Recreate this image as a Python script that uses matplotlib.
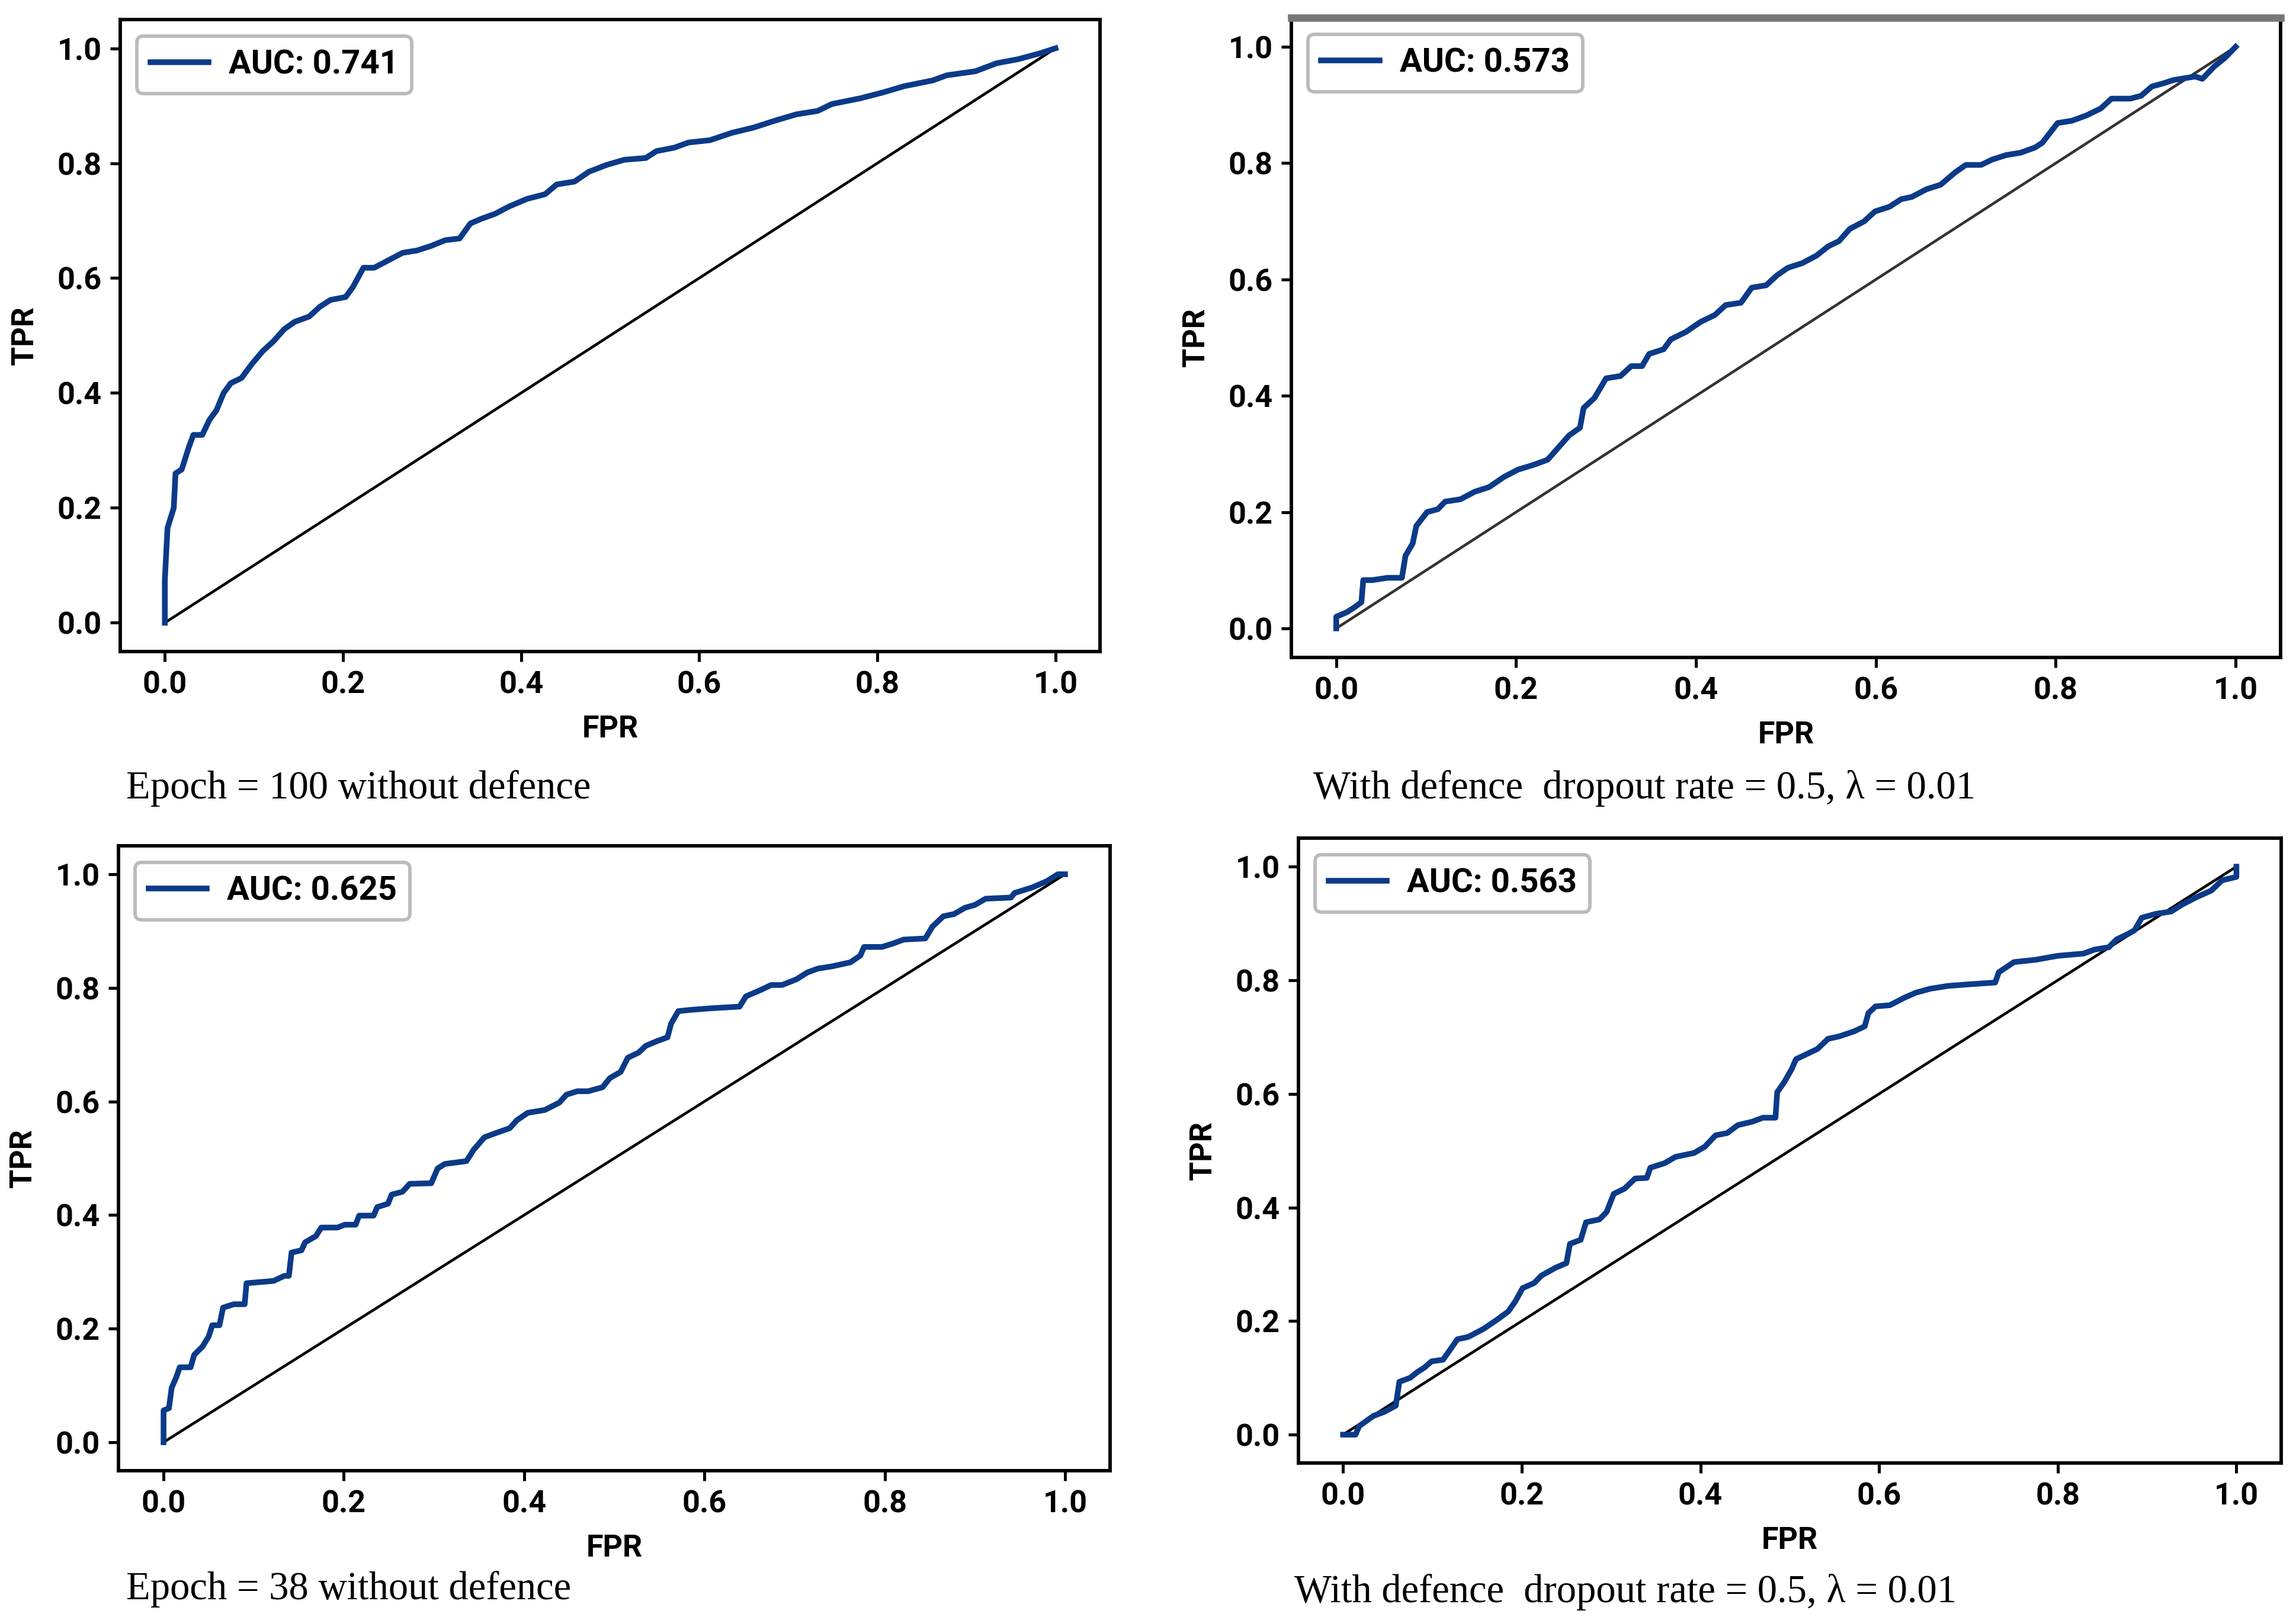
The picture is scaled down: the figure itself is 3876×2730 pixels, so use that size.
import matplotlib
matplotlib.use('Agg')
import matplotlib.pyplot as plt

plt.rcParams['font.family'] = ['Roboto', 'DejaVu Sans']

# ─── ROC data ───────────────────────────────────────────────────────────────
fpr_e100 = [0.0, 0.0, 0.003, 0.01, 0.012, 0.019, 0.027, 0.032, 0.042, 0.05, 0.058, 0.066,
            0.074, 0.086, 0.098, 0.11, 0.122, 0.134, 0.146, 0.162, 0.174, 0.186, 0.203,
            0.211, 0.223, 0.235, 0.251, 0.267, 0.283, 0.299, 0.315, 0.331, 0.343, 0.355,
            0.371, 0.387, 0.407, 0.427, 0.44, 0.46, 0.476, 0.496, 0.516, 0.54, 0.552,
            0.572, 0.588, 0.612, 0.637, 0.661, 0.685, 0.709, 0.733, 0.749, 0.781, 0.806,
            0.83, 0.862, 0.878, 0.91, 0.934, 0.958, 0.982, 1.0]
tpr_e100 = [0.0, 0.075, 0.165, 0.2, 0.26, 0.267, 0.306, 0.327, 0.327, 0.353, 0.37, 0.4,
            0.417, 0.426, 0.451, 0.473, 0.49, 0.511, 0.524, 0.533, 0.55, 0.562, 0.567,
            0.584, 0.618, 0.618, 0.631, 0.644, 0.648, 0.656, 0.666, 0.669, 0.695, 0.703,
            0.712, 0.725, 0.738, 0.746, 0.763, 0.768, 0.785, 0.797, 0.806, 0.809, 0.821,
            0.827, 0.836, 0.84, 0.853, 0.862, 0.874, 0.885, 0.891, 0.903, 0.913, 0.923,
            0.934, 0.944, 0.953, 0.96, 0.974, 0.981, 0.991, 1.0]

fpr_def1 = [0.0, 0.0, 0.012, 0.02, 0.028, 0.03, 0.04, 0.057, 0.073, 0.077, 0.085, 0.089,
            0.101, 0.113, 0.121, 0.138, 0.154, 0.17, 0.186, 0.202, 0.219, 0.235, 0.247,
            0.259, 0.271, 0.275, 0.287, 0.3, 0.316, 0.328, 0.34, 0.348, 0.364, 0.372,
            0.389, 0.405, 0.421, 0.433, 0.45, 0.462, 0.478, 0.49, 0.502, 0.518, 0.534,
            0.547, 0.559, 0.571, 0.587, 0.599, 0.615, 0.628, 0.64, 0.656, 0.672, 0.688,
            0.7, 0.717, 0.729, 0.745, 0.761, 0.777, 0.785, 0.802, 0.818, 0.834, 0.85,
            0.862, 0.883, 0.895, 0.907, 0.919, 0.931, 0.955, 0.963, 0.976, 0.988, 1.0]
tpr_def1 = [0.0, 0.02, 0.028, 0.036, 0.045, 0.083, 0.083, 0.087, 0.087, 0.125, 0.146,
            0.176, 0.2, 0.205, 0.218, 0.222, 0.235, 0.243, 0.26, 0.273, 0.281, 0.29,
            0.311, 0.332, 0.345, 0.379, 0.396, 0.43, 0.434, 0.451, 0.451, 0.472, 0.48,
            0.497, 0.51, 0.527, 0.539, 0.556, 0.56, 0.586, 0.59, 0.607, 0.62, 0.628,
            0.641, 0.657, 0.666, 0.687, 0.7, 0.717, 0.725, 0.738, 0.742, 0.755, 0.763,
            0.784, 0.797, 0.797, 0.806, 0.814, 0.818, 0.827, 0.835, 0.869, 0.873, 0.882,
            0.894, 0.911, 0.911, 0.916, 0.932, 0.937, 0.943, 0.949, 0.945, 0.966, 0.981, 1.0]

fpr_e38 = [0.0, 0.0, 0.006, 0.009, 0.014, 0.018, 0.03, 0.034, 0.043, 0.05, 0.054, 0.062,
           0.066, 0.078, 0.09, 0.092, 0.122, 0.134, 0.139, 0.142, 0.153, 0.157, 0.169,
           0.175, 0.193, 0.201, 0.213, 0.217, 0.233, 0.237, 0.249, 0.253, 0.265, 0.273,
           0.297, 0.304, 0.312, 0.336, 0.344, 0.356, 0.368, 0.384, 0.392, 0.404, 0.423,
           0.439, 0.447, 0.459, 0.471, 0.487, 0.495, 0.507, 0.515, 0.527, 0.535, 0.547,
           0.559, 0.563, 0.571, 0.583, 0.607, 0.639, 0.646, 0.662, 0.674, 0.686, 0.702,
           0.714, 0.726, 0.742, 0.762, 0.773, 0.777, 0.797, 0.809, 0.821, 0.845, 0.853,
           0.865, 0.877, 0.889, 0.9, 0.912, 0.94, 0.944, 0.964, 0.98, 0.992, 1.0]
tpr_e38 = [0.0, 0.056, 0.06, 0.096, 0.114, 0.132, 0.132, 0.154, 0.168, 0.186, 0.206, 0.206,
           0.237, 0.243, 0.243, 0.28, 0.284, 0.293, 0.293, 0.334, 0.338, 0.352, 0.363,
           0.378, 0.378, 0.383, 0.383, 0.399, 0.399, 0.414, 0.42, 0.436, 0.441, 0.455,
           0.456, 0.482, 0.49, 0.495, 0.515, 0.537, 0.544, 0.553, 0.567, 0.58, 0.585,
           0.598, 0.612, 0.618, 0.618, 0.625, 0.641, 0.652, 0.677, 0.686, 0.698, 0.706,
           0.713, 0.737, 0.759, 0.761, 0.764, 0.767, 0.785, 0.796, 0.805, 0.805, 0.815,
           0.827, 0.834, 0.838, 0.845, 0.857, 0.872, 0.872, 0.878, 0.885, 0.887, 0.908,
           0.926, 0.93, 0.941, 0.946, 0.957, 0.959, 0.967, 0.977, 0.988, 1.0, 1.0]

fpr_def2 = [0.0, 0.014, 0.018, 0.026, 0.034, 0.046, 0.059, 0.063, 0.075, 0.083, 0.091,
            0.099, 0.112, 0.12, 0.128, 0.14, 0.157, 0.173, 0.185, 0.193, 0.201, 0.214,
            0.222, 0.238, 0.25, 0.254, 0.266, 0.272, 0.287, 0.295, 0.303, 0.315, 0.327,
            0.34, 0.344, 0.36, 0.372, 0.393, 0.405, 0.417, 0.43, 0.442, 0.458, 0.47,
            0.484, 0.486, 0.494, 0.502, 0.507, 0.519, 0.531, 0.543, 0.555, 0.572, 0.584,
            0.588, 0.596, 0.612, 0.628, 0.641, 0.657, 0.677, 0.702, 0.73, 0.734, 0.751,
            0.775, 0.8, 0.829, 0.841, 0.857, 0.866, 0.878, 0.886, 0.894, 0.91, 0.927,
            0.939, 0.955, 0.972, 0.984, 1.0, 1.0]
tpr_def2 = [0.0, 0.0, 0.015, 0.024, 0.033, 0.04, 0.051, 0.093, 0.1, 0.11, 0.118, 0.129,
            0.132, 0.15, 0.168, 0.172, 0.186, 0.203, 0.217, 0.235, 0.258, 0.267, 0.28,
            0.294, 0.302, 0.336, 0.343, 0.374, 0.379, 0.392, 0.424, 0.433, 0.451, 0.452,
            0.47, 0.478, 0.489, 0.496, 0.507, 0.527, 0.531, 0.545, 0.551, 0.558, 0.558,
            0.603, 0.621, 0.643, 0.661, 0.67, 0.679, 0.697, 0.701, 0.71, 0.719, 0.742,
            0.754, 0.756, 0.769, 0.778, 0.785, 0.79, 0.793, 0.796, 0.814, 0.832, 0.836,
            0.843, 0.847, 0.854, 0.858, 0.872, 0.881, 0.888, 0.91, 0.917, 0.921, 0.933,
            0.946, 0.958, 0.976, 0.982, 1.0]

auc_labels = ['AUC: 0.741', 'AUC: 0.573', 'AUC: 0.625', 'AUC: 0.563']
captions = ['Epoch = 100 without defence',
            'With defence  dropout rate = 0.5, \u03bb = 0.01',
            'Epoch = 38 without defence',
            'With defence  dropout rate = 0.5, \u03bb = 0.01']

BLUE = '#0b3a88'
fig = plt.figure(figsize=(12.92, 9.1), dpi=300)
fig.patch.set_facecolor('white')

rects = [[0.0524, 0.5971, 0.4267, 0.3908],
         [0.5624, 0.5934, 0.4309, 0.3956],
         [0.0516, 0.0905, 0.4319, 0.3864],
         [0.5655, 0.0952, 0.4280, 0.3864]]
curves = [(fpr_e100, tpr_e100), (fpr_def1, tpr_def1),
          (fpr_e38, tpr_e38), (fpr_def2, tpr_def2)]
cap_pos = [(0.055, 0.5125), (0.572, 0.5125), (0.055, 0.0173), (0.5638, 0.0155)]

for i in range(4):
    ax = fig.add_axes(rects[i])
    fpr, tpr = curves[i]
    diag_c = '#333333' if i == 1 else 'black'
    ax.plot([0, 1], [0, 1], color=diag_c, lw=1.1, zorder=2)
    ax.plot(fpr, tpr, color=BLUE, lw=2.3, label=auc_labels[i], zorder=3)
    ax.set_xticks([0.0, 0.2, 0.4, 0.6, 0.8, 1.0])
    ax.set_yticks([0.0, 0.2, 0.4, 0.6, 0.8, 1.0])
    ax.tick_params(labelsize=12.5, width=1.2, length=4)
    for lb in ax.get_xticklabels() + ax.get_yticklabels():
        lb.set_fontweight('bold')
    ax.set_xlabel('FPR', fontsize=12.5, fontweight='bold', labelpad=6)
    ax.set_ylabel('TPR', fontsize=12.5, fontweight='bold', labelpad=7)
    for sp in ax.spines.values():
        sp.set_linewidth(1.4)
    if i == 1:
        ax.spines['top'].set_color('#777777')
        ax.spines['top'].set_linewidth(3)
    leg = ax.legend(loc='upper left', prop={'size': 13.5, 'weight': 'bold'},
                    handlelength=1.75, handletextpad=0.6, framealpha=1)
    leg.get_frame().set_edgecolor('#bbbbbb')
    leg.get_frame().set_linewidth(1.4)
    fig.text(cap_pos[i][0], cap_pos[i][1], captions[i], ha='left', va='center',
             fontsize=16, family='Liberation Serif')

fig.savefig('out.png', dpi=300, facecolor='white')
